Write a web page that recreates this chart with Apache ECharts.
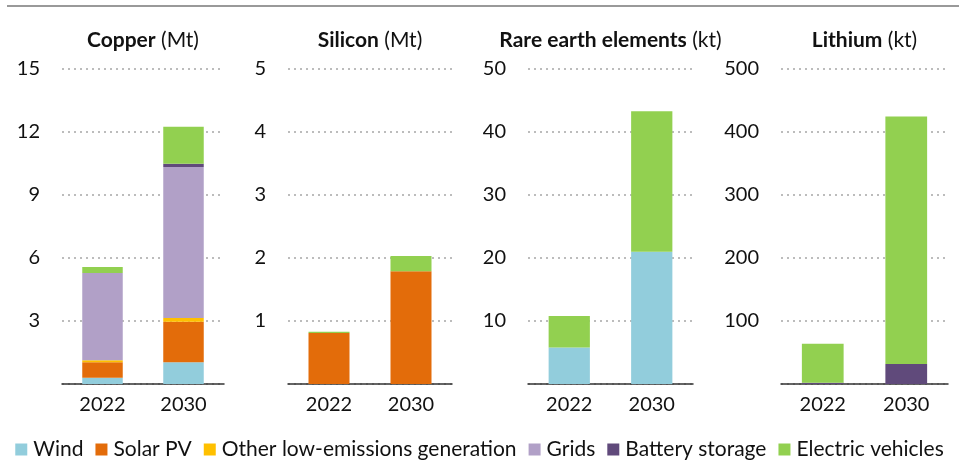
<!DOCTYPE html>
<html><head><meta charset="utf-8">
<script src="https://cdn.jsdelivr.net/npm/echarts@6/dist/echarts.min.js"></script>
<style>html,body{margin:0;padding:0;background:#fff}#c{width:959px;height:463px}</style>
</head><body><div id="c"></div>
<script>
const years = ['2022', '2030'];
const seriesNames = ['Wind', 'Solar PV', 'Other low-emissions generation', 'Grids', 'Battery storage', 'Electric vehicles'];
const seriesColors = ['#92CDDC', '#E36C0A', '#FFC000', '#B1A0C7', '#604A7B', '#92D050'];

const panelTitles = ['Copper', 'Silicon', 'Rare earth elements', 'Lithium'];
const panelUnits = ['(Mt)', '(Mt)', '(kt)', '(kt)'];
const panelMax = [15, 5, 50, 500];
const panelInterval = [3, 1, 10, 100];

// values per panel: [series][year]
const copper = {
  'Wind': [0.3, 1.03],
  'Solar PV': [0.73, 1.94],
  'Other low-emissions generation': [0.1, 0.17],
  'Grids': [4.16, 7.19],
  'Battery storage': [0, 0.16],
  'Electric vehicles': [0.28, 1.76]
};
const silicon = {
  'Wind': [0, 0],
  'Solar PV': [0.81, 1.79],
  'Other low-emissions generation': [0, 0],
  'Grids': [0, 0],
  'Battery storage': [0, 0],
  'Electric vehicles': [0.02, 0.24]
};
const rareEarth = {
  'Wind': [5.8, 21.0],
  'Solar PV': [0, 0],
  'Other low-emissions generation': [0, 0],
  'Grids': [0, 0],
  'Battery storage': [0, 0],
  'Electric vehicles': [5.0, 22.3]
};
const lithium = {
  'Wind': [0, 0],
  'Solar PV': [0, 0],
  'Other low-emissions generation': [0, 0],
  'Grids': [0, 0],
  'Battery storage': [2, 31.7],
  'Electric vehicles': [62, 393]
};
const panels = [copper, silicon, rareEarth, lithium];

const FONT = 'Lato';
const FS = 20;
const TFS = 21;
const gridLeft = [62, 288, 528, 781];
const gridWidth = [162, 164, 165, 167];
const gridTop = 69, gridBottom = 384;

const grids = [], xAxes = [], yAxes = [], titles = [], series = [];
panels.forEach((p, i) => {
  grids.push({left: gridLeft[i], width: gridWidth[i], top: gridTop, height: gridBottom - gridTop, containLabel: false});
  xAxes.push({
    type: 'category', gridIndex: i, data: years,
    axisLine: {show: true, lineStyle: {color: '#333', width: 1.5}},
    axisTick: {show: false},
    axisLabel: {fontFamily: FONT, fontSize: FS, color: '#111', margin: 11}
  });
  yAxes.push({
    type: 'value', gridIndex: i, min: 0, max: panelMax[i], interval: panelInterval[i],
    axisLine: {show: false}, axisTick: {show: false},
    axisLabel: {fontFamily: FONT, fontSize: FS, color: '#111', margin: 22, showMinLabel: false,
      formatter: v => v === 0 ? '' : String(v)},
    splitLine: {show: true, lineStyle: {color: '#a6a6a6', type: [2, 4], width: 1.5}}
  });
  titles.push({
    text: '{b|' + panelTitles[i] + '} {n|' + panelUnits[i] + '}',
    left: gridLeft[i] + gridWidth[i] / 2 - 5, top: 25, textAlign: 'center',
    textStyle: {fontWeight: 'normal', fontFamily: FONT, fontSize: TFS, rich: {
      b: {fontFamily: FONT, fontSize: TFS, fontWeight: 'bold', color: '#111'},
      n: {fontFamily: FONT, fontSize: TFS, fontWeight: 'normal', color: '#111'}
    }}
  });
  seriesNames.forEach((name, k) => {
    series.push({
      type: 'bar', name: name, stack: 'p' + i, xAxisIndex: i, yAxisIndex: i,
      data: p[name], barWidth: '50%',
      itemStyle: {color: seriesColors[k]},
      emphasis: {disabled: true}
    });
  });
});

const chart = echarts.init(document.getElementById('c'), null, {renderer: 'canvas'});
chart.setOption({
  animation: false,
  title: titles,
  grid: grids,
  xAxis: xAxes,
  yAxis: yAxes,
  legend: {
    data: seriesNames, top: 439, left: 'center', icon: 'rect', itemWidth: 12, itemHeight: 12, itemGap: 12,
    padding: 0,
    textStyle: {fontFamily: FONT, fontSize: 21, color: '#111', padding: [0, 0, 0, 1]}
  },
  graphic: [{type: 'rect', shape: {x: 7, y: 5, width: 952, height: 2}, style: {fill: '#999'}}],
  series: series
});
</script></body></html>
